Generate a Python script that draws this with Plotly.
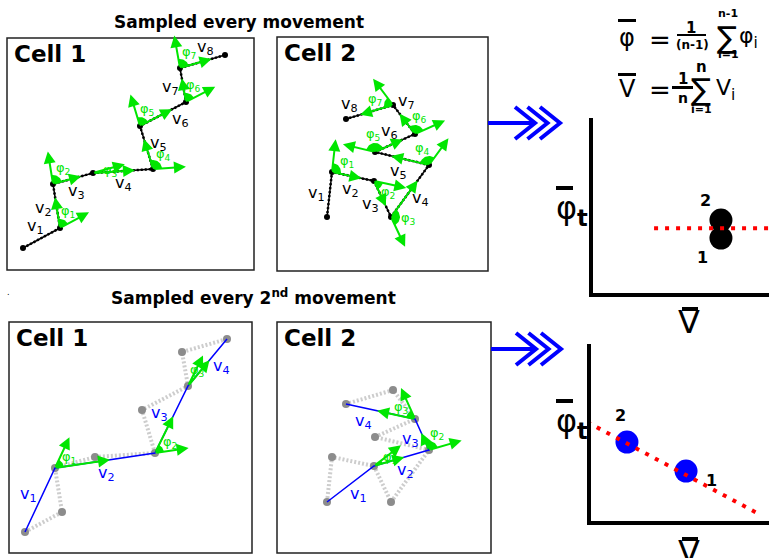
import numpy as np
import plotly.graph_objects as go

W, H = 769, 558

# ---------------- data ----------------
# cell trajectories (positions of the cell centroid, panel units, y downwards)
cell1_x = [16, 53, 46, 86, 146, 133, 179, 173, 218]
cell1_y = [210, 190, 146, 135, 131, 88, 64, 30, 17]
cell2_x = [50, 55, 97, 114, 152, 98, 138, 116, 69]
cell2_y = [180, 135, 144, 180, 128, 115, 97, 68, 82]

cell_labels = ["1", "2"]
# mean speed / mean turning angle, sampled every movement
speed_every = [7.27, 7.27]
turn_every = [3.14, 4.17]
trend_every_x = [3.47, 10.0]
trend_every_y = [3.70, 3.70]
# sampled every 2nd movement
speed_second = [5.34, 2.02]
turn_second = [2.82, 4.46]
trend_second_x = [-0.22, 9.33]
trend_second_y = [5.59, 0.45]

# ---------------- style ----------------
GREEN = "#00e600"
BLUE = "#0000ff"
FONT = "DejaVu Sans"
PANELS = [  # pixel boxes (left, top, right, bottom)
    (7, 38, 254, 270),
    (277, 37, 488, 271),
    (9, 322, 252, 553),
    (277, 322, 491, 553),
]
V_SIDES = [
    [1, 1, -1, -1, -1, -1, 1, 1],
    [1, -1, -1, -1, 1, 1, -1, -1],
    [1, -1, 1, -1],
    [-1, -1, 1, 1],
]
V_ALONG = [
    [0.5, 0.5, 0.5, 0.5, 0.5, 0.75, 0.5, 0.65],
    [0.5, 0.5, 0.5, 0.5, 0.5, 0.5, 0.85, 0.85],
    [0.5, 0.5, 0.5, 0.6],
    [0.5, 0.5, 0.5, 0.7],
]


def px(x):
    return x / W


def py(y):
    return 1 - y / H


fig = go.Figure()
layout_axes = {}
shapes = []
annots = []


def axname(i):
    return ("x", "y") if i == 1 else (f"x{i}", f"y{i}")


def axkey(i):
    return ("xaxis", "yaxis") if i == 1 else (f"xaxis{i}", f"yaxis{i}")


for i, (l, t, r, b) in enumerate(PANELS, start=1):
    xa, ya = axname(i)
    kx, ky = axkey(i)
    layout_axes[kx] = dict(domain=[px(l), px(r)], range=[0, r - l], visible=False, anchor=ya)
    layout_axes[ky] = dict(domain=[py(b), py(t)], range=[b - t, 0], visible=False, anchor=xa)
    shapes.append(dict(type="rect", xref="paper", yref="paper", x0=px(l), x1=px(r),
                       y0=py(b), y1=py(t), line=dict(color="#222", width=1.5)))


def add_glyphs(xs, ys, panel, cont_len, next_frac, sides, along, vcolor):
    xa, ya = axname(panel)
    P = np.column_stack([xs, ys]).astype(float)
    n = len(P)
    for k in range(n - 1):
        d = P[k + 1] - P[k]
        L = np.hypot(*d)
        nrm = np.array([d[1], -d[0]]) / L
        m = P[k] + d * along[k] + nrm * sides[k] * 13
        annots.append(dict(x=m[0], y=m[1], xref=xa, yref=ya, text=f"v<sub>{k + 1}</sub>",
                           showarrow=False, font=dict(size=16, color=vcolor, family=FONT)))
    for k in range(1, n - 1):
        d0 = P[k] - P[k - 1]
        d0 = d0 / np.hypot(*d0)
        d1 = P[k + 1] - P[k]
        L1 = np.hypot(*d1)
        d1 = d1 / L1
        a0 = np.arctan2(d0[1], d0[0])
        a1 = np.arctan2(d1[1], d1[0])
        diff = (a1 - a0 + np.pi) % (2 * np.pi) - np.pi
        angs = a0 + np.linspace(0, diff, 24)
        R = 9
        wx = [P[k, 0]] + list(P[k, 0] + R * np.cos(angs)) + [P[k, 0]]
        wy = [P[k, 1]] + list(P[k, 1] + R * np.sin(angs)) + [P[k, 1]]
        fig.add_trace(go.Scatter(x=wx, y=wy, xaxis=xa, yaxis=ya, mode="lines", fill="toself",
                                 fillcolor=GREEN, line=dict(width=0, color=GREEN),
                                 hoverinfo="skip", showlegend=False))
        for head in (P[k] + d0 * cont_len, P[k] + d1 * L1 * next_frac):
            annots.append(dict(x=head[0], y=head[1], ax=P[k, 0], ay=P[k, 1], xref=xa, yref=ya,
                               axref=xa, ayref=ya, text="", showarrow=True, arrowhead=2,
                               arrowsize=1.2, arrowwidth=2, arrowcolor=GREEN, standoff=0))
        bis = d0 + d1
        if np.hypot(*bis) < 1e-6:
            bis = np.array([d0[1], -d0[0]])
        bis = bis / np.hypot(*bis)
        q = P[k] + bis * 18
        annots.append(dict(x=q[0], y=q[1], xref=xa, yref=ya, text=f"φ<sub>{k}</sub>",
                           showarrow=False, font=dict(size=13, color=GREEN, family=FONT)))


cells = [(cell1_x, cell1_y), (cell2_x, cell2_y)]
# top row: every movement
for j, (cx, cy) in enumerate(cells):
    panel = j + 1
    xa, ya = axname(panel)
    fig.add_trace(go.Scatter(x=cx, y=cy, xaxis=xa, yaxis=ya, mode="lines",
                             line=dict(color="black", width=1.5),
                             hoverinfo="skip", showlegend=False))
    fig.add_trace(go.Scatter(x=cx, y=cy, xaxis=xa, yaxis=ya, mode="lines+markers",
                             line=dict(color="black", width=2.5, dash="2px,2px"),
                             marker=dict(color="black", size=6),
                             hoverinfo="skip", showlegend=False))
    add_glyphs(cx, cy, panel, 33, 0.7, V_SIDES[panel - 1], V_ALONG[panel - 1], "black")
# bottom row: every 2nd movement
for j, (cx, cy) in enumerate(cells):
    panel = j + 3
    xa, ya = axname(panel)
    fig.add_trace(go.Scatter(x=cx, y=cy, xaxis=xa, yaxis=ya, mode="lines+markers",
                             line=dict(color="#cdcdcd", width=4, dash="2px,2px"),
                             marker=dict(color="#8c8c8c", size=8),
                             hoverinfo="skip", showlegend=False))
    fig.add_trace(go.Scatter(x=cx[::2], y=cy[::2], xaxis=xa, yaxis=ya, mode="lines",
                             line=dict(color=BLUE, width=1.5), hoverinfo="skip", showlegend=False))
    add_glyphs(cx[::2], cy[::2], panel, 34, 0.55, V_SIDES[panel - 1], V_ALONG[panel - 1], BLUE)

for i in range(1, 5):
    xa, ya = axname(i)
    annots.append(dict(x=5, y=1, xref=xa, yref=ya, xanchor="left", yanchor="top",
                       text=f"<b>Cell {1 if i in (1, 3) else 2}</b>", showarrow=False,
                       font=dict(size=23, color="black", family=FONT)))

# ---------------- summary plots ----------------
PLOTS = [
    (5, (593, 118, 769, 293), speed_every, turn_every, trend_every_x, trend_every_y, "black",
     [(-18, -19), (-15, 20)]),
    (6, (591, 344, 769, 521), speed_second, turn_second, trend_second_x, trend_second_y, BLUE,
     [(25, -9), (-6, 27)]),
]
for idx, (l, t, r, b), sx, sy, tx, ty, col, offs in PLOTS:
    xa, ya = axname(idx)
    kx, ky = axkey(idx)
    common = dict(range=[0, 10], showgrid=False, zeroline=False, showticklabels=False, ticks="",
                  showline=True, linewidth=4, linecolor="black")
    layout_axes[kx] = dict(domain=[px(l), px(r)], anchor=ya, **common)
    layout_axes[ky] = dict(domain=[py(b), py(t)], anchor=xa, **common)
    fig.add_trace(go.Scatter(x=sx, y=sy, xaxis=xa, yaxis=ya, mode="markers",
                             marker=dict(color=col, size=23), hoverinfo="skip", showlegend=False))
    fig.add_trace(go.Scatter(x=tx, y=ty, xaxis=xa, yaxis=ya, mode="lines",
                             line=dict(color="red", width=4, dash="4px,7px"),
                             hoverinfo="skip", showlegend=False))
    for k, lab in enumerate(cell_labels):
        annots.append(dict(x=sx[k], y=sy[k], xref=xa, yref=ya, text=f"<b>{lab}</b>",
                           showarrow=False, xshift=offs[k][0], yshift=offs[k][1],
                           font=dict(size=16, color="black", family=FONT)))


def text(x, y, s, size, **kw):
    annots.append(dict(x=px(x), y=py(y), xref="paper", yref="paper", text=s, showarrow=False,
                       xanchor="center", yanchor="middle",
                       font=dict(size=size, color="black", family=FONT), **kw))


def bar(x0, x1, y0, y1):
    shapes.append(dict(type="rect", xref="paper", yref="paper", x0=px(x0), x1=px(x1),
                       y0=py(y1), y1=py(y0), fillcolor="black", line=dict(width=0)))


# axis titles
for (yc, vy) in [(210, 322), (423, 552)]:
    text(572, yc, "φ<sub><b>t</b></sub>", 32)
    bar(556, 573, yc - 24, yc - 20)
    text(689, vy, "V", 32)
    bar(682, 698, vy - 15, vy - 11)

# titles
text(239, 22, "<b>Sampled every movement</b>", 17)
text(253, 297, "<b>Sampled every 2<sup>nd</sup> movement</b>", 17)
text(8, 292, ".", 8)

# formulas
text(627, 38, "φ", 24)
bar(618, 636, 19, 22)
text(660, 40, "=", 26)
text(691, 28, "<b>1</b>", 15)
bar(677, 706, 34, 36)
text(692, 45, "<b>(n-1)</b>", 12)
text(727, 37, "∑", 30)
text(728, 13, "<b>n-1</b>", 11)
text(728, 55, "<b>i=1</b>", 11)
text(748, 37, "φ<sub>i</sub>", 22)

text(627, 89, "V", 24)
bar(618, 636, 73, 76)
text(660, 90, "=", 26)
text(683, 79, "<b>1</b>", 15)
bar(672, 693, 86, 89)
text(683, 98, "<b>n</b>", 14)
text(701, 89, "∑", 30)
text(701, 67, "<b>n</b>", 15)
text(701, 109, "<b>i=1</b>", 11)
text(725, 89, "V<sub>i</sub>", 22)

# blue triple-chevron arrows
for (x0, y0, tip0) in [(488, 123, 535), (491, 349, 536)]:
    shapes.append(dict(type="line", xref="paper", yref="paper", x0=px(x0), x1=px(tip0 - 2),
                       y0=py(y0), y1=py(y0), line=dict(color=BLUE, width=4)))
    for k in range(3):
        tip = tip0 + 12.5 * k
        path = (f"M {px(tip - 20)},{py(y0 - 16)} L {px(tip)},{py(y0)} "
                f"L {px(tip - 20)},{py(y0 + 16)}")
        shapes.append(dict(type="path", xref="paper", yref="paper", path=path,
                           line=dict(color=BLUE, width=4)))

fig.update_layout(width=W, height=H, margin=dict(l=0, r=0, t=0, b=0),
                  paper_bgcolor="white", plot_bgcolor="white",
                  font=dict(family=FONT), shapes=shapes, annotations=annots,
                  showlegend=False, **layout_axes)
fig.write_html("out.html", config={"displayModeBar": False})
